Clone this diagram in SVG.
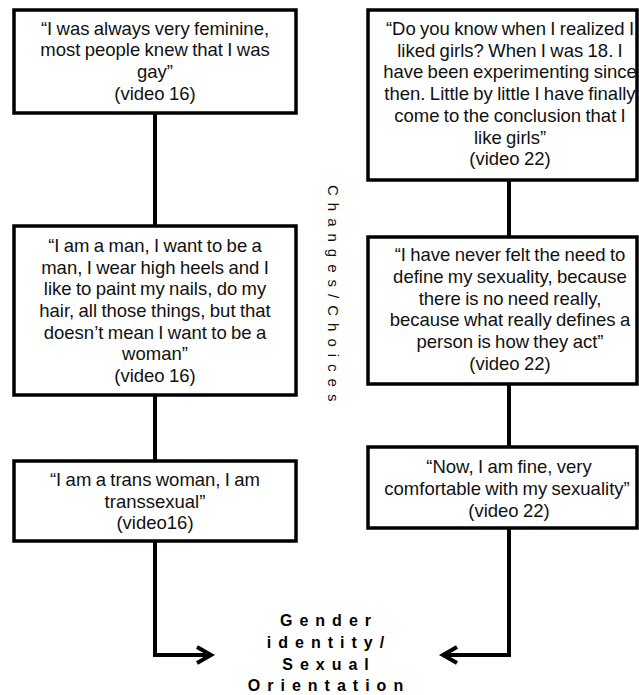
<svg xmlns="http://www.w3.org/2000/svg" width="639" height="695" viewBox="0 0 639 695">
<style>
.box{fill:#fff;stroke:#000;stroke-width:3.5}
.q{font-family:"Liberation Sans",Arial,sans-serif;font-size:18.5px;word-spacing:-0.8px;fill:#111;text-anchor:middle}
.con{fill:none;stroke:#000;stroke-width:4}
.lbl{font-family:"Liberation Sans",Arial,sans-serif;font-size:16px;font-weight:bold;fill:#000;text-anchor:middle;letter-spacing:7px}
.side{font-family:"Liberation Sans",Arial,sans-serif;font-size:15px;fill:#111;letter-spacing:7px}
</style>
<rect width="639" height="695" fill="#fff"/>
<g id="connectors">
<path class="con" d="M155 113V226M155 395V461M155 541V655H210"/>
<path class="con" d="M197 647L211 655L197 663"/>
<path class="con" d="M509 180V237M509 384V447M509 528V655H444"/>
<path class="con" d="M457 647L443 655L457 663"/>
</g>
<g id="l1">
<rect class="box" x="14" y="10" width="282" height="103"/>
<text class="q"><tspan x="155" y="34.5">“I was always very feminine,</tspan><tspan x="155" y="56.3">most people knew that I was</tspan><tspan x="155" y="78">gay”</tspan><tspan x="155" y="100">(video 16)</tspan></text>
</g>
<g id="l2">
<rect class="box" x="14" y="226" width="282" height="169"/>
<text class="q"><tspan x="155" y="252">“I am a man, I want to be a</tspan><tspan x="155" y="273.5">man, I wear high heels and I</tspan><tspan x="155" y="295.2">like to paint my nails, do my</tspan><tspan x="155" y="317">hair, all those things, but that</tspan><tspan x="155" y="338.5">doesn’t mean I want to be a</tspan><tspan x="155" y="360.2">woman”</tspan><tspan x="155" y="382">(video 16)</tspan></text>
</g>
<g id="l3">
<rect class="box" x="14" y="461" width="282" height="80"/>
<text class="q"><tspan x="155" y="486">“I am a trans woman, I am</tspan><tspan x="155" y="507.7">transsexual”</tspan><tspan x="155" y="529.4">(video16)</tspan></text>
</g>
<g id="r1">
<rect class="box" x="368" y="10" width="269" height="170"/>
<text class="q"><tspan x="510" y="35">“Do you know when I realized I</tspan><tspan x="510" y="56.7">liked girls? When I was 18. I</tspan><tspan x="510" y="78.4">have been experimenting since</tspan><tspan x="510" y="100.1">then. Little by little I have finally</tspan><tspan x="510" y="121.8">come to the conclusion that I</tspan><tspan x="510" y="143.5">like girls”</tspan><tspan x="510" y="165.2">(video 22)</tspan></text>
</g>
<g id="r2">
<rect class="box" x="368" y="237" width="269" height="147"/>
<text class="q"><tspan x="510" y="261">“I have never felt the need to</tspan><tspan x="510" y="282.8">define my sexuality, because</tspan><tspan x="510" y="304.6">there is no need really,</tspan><tspan x="510" y="326.4">because what really defines a</tspan><tspan x="510" y="348.2">person is how they act”</tspan><tspan x="510" y="370">(video 22)</tspan></text>
</g>
<g id="r3">
<rect class="box" x="368" y="447" width="269" height="81"/>
<text class="q"><tspan x="509" y="473">“Now, I am fine, very</tspan><tspan x="507" y="494.8">comfortable with my sexuality”</tspan><tspan x="509" y="516.5">(video 22)</tspan></text>
</g>
<g id="side">
<text class="side" transform="translate(328,185) rotate(90)">Changes/Choices</text>
</g>
<g id="target">
<text class="lbl"><tspan x="329" y="626">Gender</tspan><tspan x="329" y="648">identity/</tspan><tspan x="329" y="670">Sexual</tspan><tspan x="329" y="691">Orientation</tspan></text>
</g>
</svg>
